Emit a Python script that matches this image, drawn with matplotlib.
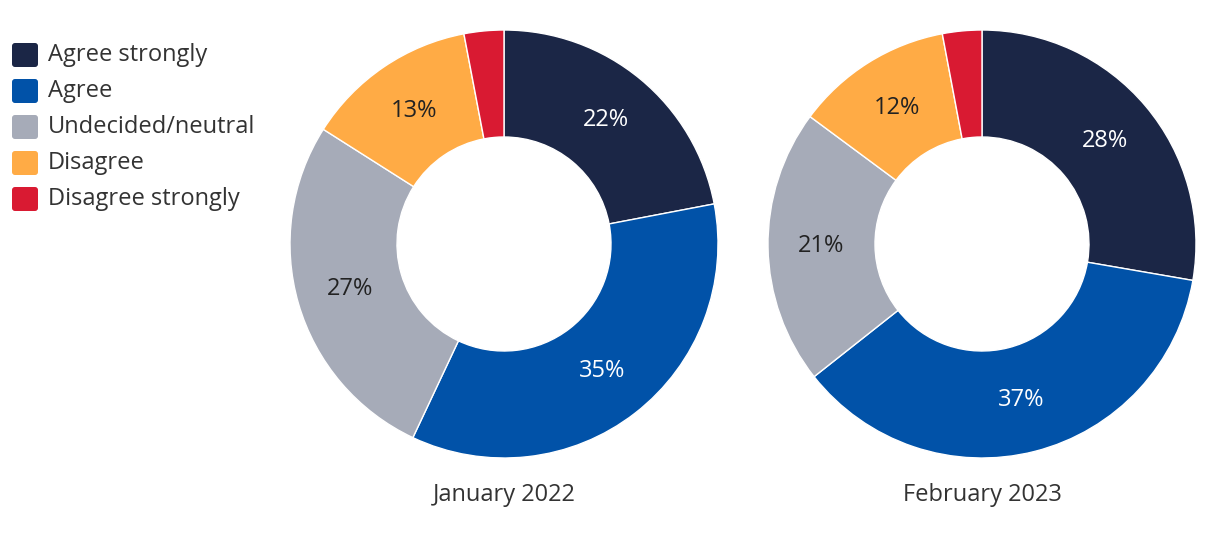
import numpy as np
import matplotlib.pyplot as plt
from matplotlib.patches import FancyBboxPatch

plt.rcParams['font.family'] = ['Open Sans', 'DejaVu Sans']

categories = ["Agree strongly", "Agree", "Undecided/neutral", "Disagree", "Disagree strongly"]
colors = ['#1b2646', '#0152a8', '#a6abb8', '#ffab45', '#d91a32']
label_colors = ['white', 'white', '#222222', '#222222', None]

jan_2022 = [22, 35, 27, 13, 3]
feb_2023 = [28, 37, 21, 12, 3]
titles = ["January 2022", "February 2023"]

W, H = 1220, 544
fig = plt.figure(figsize=(12.2, 5.44), dpi=100)

def donut(cx, values, title):
    r = 214
    ax = fig.add_axes([(cx - r) / W, (H - 244 - r) / H, 2 * r / W, 2 * r / H])
    ax.pie(values, colors=colors, startangle=90, counterclock=False,
           radius=1, wedgeprops=dict(width=0.5, edgecolor='white', linewidth=1))
    total = sum(values)
    start = 90
    for v, lc in zip(values, label_colors):
        ang = start - v / total * 360 / 2
        start -= v / total * 360
        if lc is None:
            continue
        ax.text(0.75 * np.cos(np.radians(ang)), 0.75 * np.sin(np.radians(ang)), f"{v}%",
                ha='center', va='center', fontsize=17, color=lc)
    ax.set_xlim(-1, 1)
    ax.set_ylim(-1, 1)
    ax.set_aspect('equal')
    ax.axis('off')
    fig.text(cx / W, 1 - 495 / H, title, ha='center', va='center', fontsize=17, color='#333333')

donut(504, jan_2022, titles[0])
donut(982, feb_2023, titles[1])

# legend
lax = fig.add_axes([0, 0, 1, 1])
lax.set_xlim(0, W)
lax.set_ylim(H, 0)
lax.axis('off')
for i, (cat, col) in enumerate(zip(categories, colors)):
    y = 55 + i * 36
    lax.add_patch(FancyBboxPatch((12, y - 12), 26, 24, boxstyle="round,pad=0,rounding_size=3",
                                 facecolor=col, edgecolor='none'))
    lax.text(48, y, cat, ha='left', va='center', fontsize=17, color='#333333')

fig.savefig('out.png', dpi=100)
